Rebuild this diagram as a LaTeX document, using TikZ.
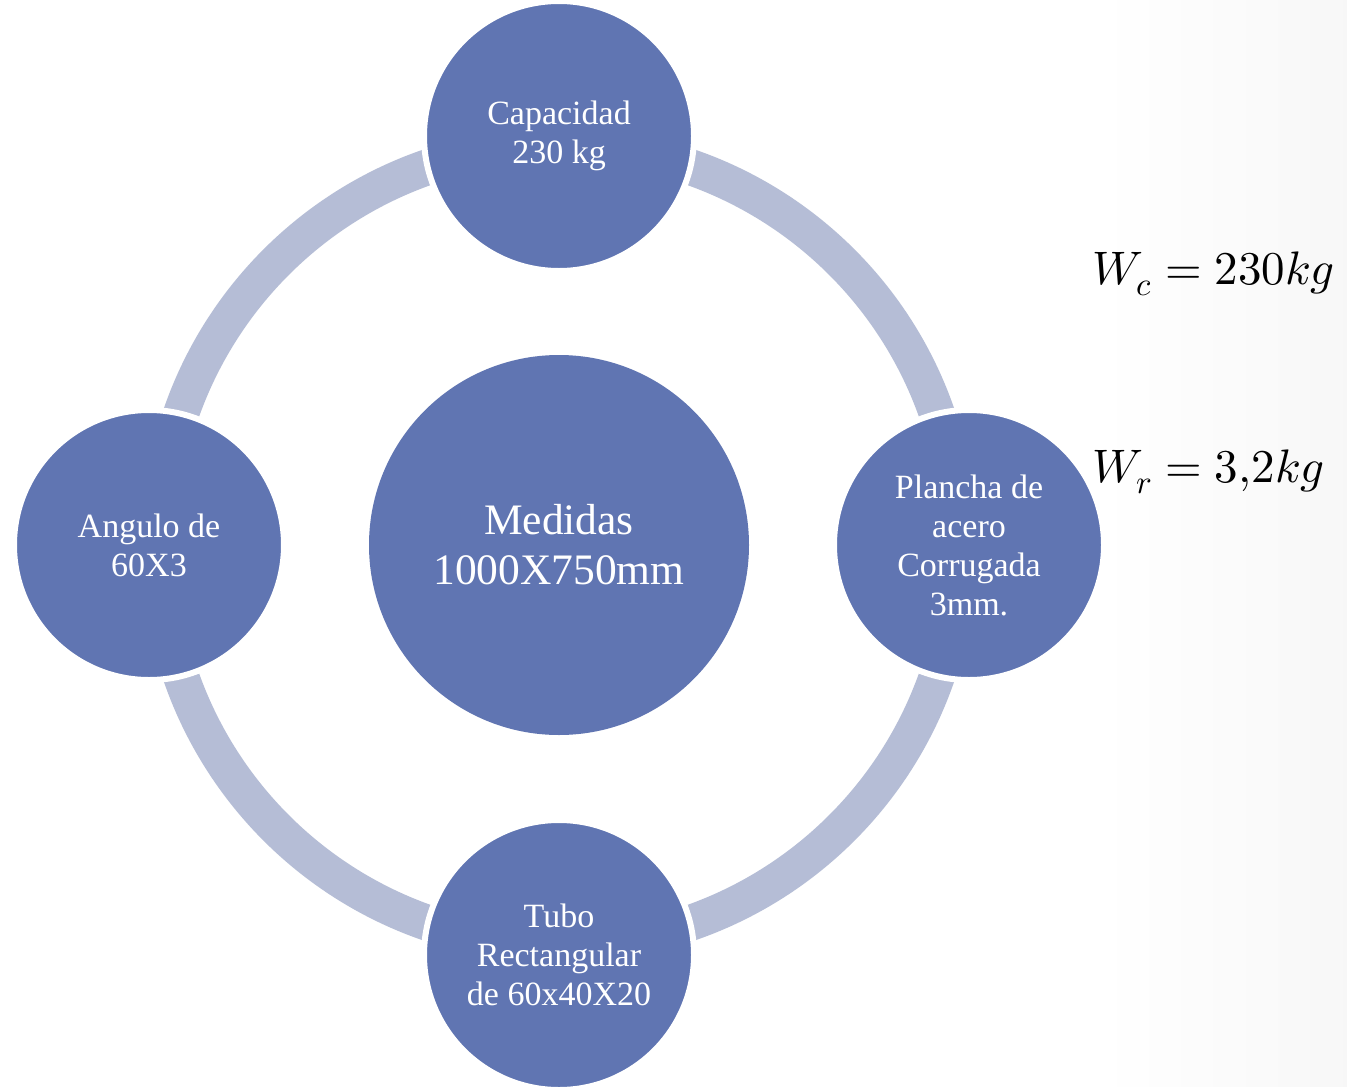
\documentclass[tikz,border=0pt]{standalone}
\usepackage{fontspec}
\usepackage{unicode-math}
\setmainfont{Liberation Serif}
\setmathfont{Latin Modern Math}
\definecolor{circfill}{RGB}{96,117,178}
\definecolor{bandcol}{RGB}{181,189,214}
\tikzset{
  outercirc/.style={circle, fill=circfill, draw=white, line width=6pt, minimum size=270pt, inner sep=0pt, align=center, text=white, font=\fontsize{34}{39}\selectfont},
  centercirc/.style={circle, fill=circfill, minimum size=380pt, inner sep=0pt, align=center, text=white, font=\fontsize{43.5}{50}\selectfont},
  mathlabel/.style={anchor=base west, inner sep=0pt, font=\fontsize{47}{55}\selectfont}
}
\begin{document}
\begin{tikzpicture}[x=1pt,y=-1pt]
\useasboundingbox (0,0) rectangle (1347,1087);
\fill[white] (0,0) rectangle (1347,1087);
\shade[left color=white, right color=black!3] (1100,0) rectangle (1347,1087);
\coordinate (ctr) at (559,545);
\draw[bandcol, line width=36pt] (ctr) circle[radius=400pt];
\node[centercirc] (medidas) at (ctr) {Medidas\\1000X750mm};
\node[outercirc] (cap) at (559,136) {Capacidad\\230 kg};
\node[outercirc] (plancha) at (969,545) {Plancha de\\acero\\Corrugada\\3mm.};
\node[outercirc] (tubo) at (559,955) {Tubo\\Rectangular\\de 60x40X20};
\node[outercirc] (angulo) at (149,545) {Angulo de\\60X3};
\node[mathlabel] (wc) at (1092,284) {$W_c = 230kg$};
\node[mathlabel] (wr) at (1092,482) {$W_r = 3{,}2kg$};
\end{tikzpicture}
\end{document}
